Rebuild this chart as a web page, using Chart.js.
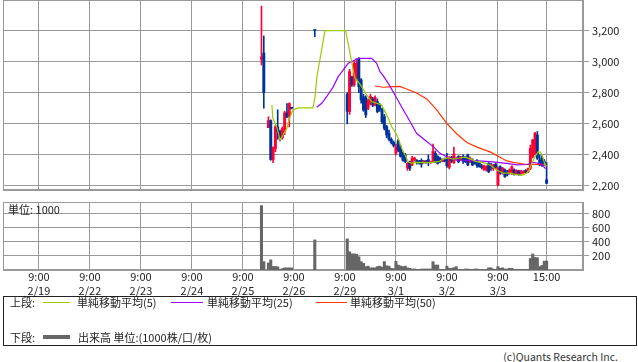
<!DOCTYPE html>
<html>
<head>
<meta charset="utf-8">
<script src="https://cdn.jsdelivr.net/npm/chart.js@4.4.1/dist/chart.umd.min.js"></script>
<style>
  body { margin: 0; background: #fff; }
  #wrap { position: relative; width: 638px; height: 362px; overflow: hidden; background: #fff;
          font-family: "Noto Sans CJK JP", sans-serif; color: #222; }
  canvas { position: absolute; left: 0; }
  .txt { position: absolute; font-size: 11px; line-height: 14px; white-space: nowrap; }
  .sw { position: absolute; height: 0; }
  #legend { position: absolute; left: 3px; top: 296px; width: 632px; height: 48px; border: 1px solid #222; }
</style>
</head>
<body>
<div id="wrap">
  <canvas id="price" width="638" height="191" style="top:0"></canvas>
  <canvas id="vol" width="638" height="100" style="top:196px"></canvas>
  <div class="txt" style="left:8px;top:202px">単位: 1000</div>

  <div id="legend"></div>
  <div class="txt" style="left:10px;top:295px">上段:</div>
  <div class="sw" style="left:43px;top:302px;width:27px;border-top:1px solid #99cc00"></div>
  <div class="txt" style="left:77px;top:295px">単純移動平均(5)</div>
  <div class="sw" style="left:171px;top:302px;width:32px;border-top:1px solid #9900ff"></div>
  <div class="txt" style="left:207px;top:295px">単純移動平均(25)</div>
  <div class="sw" style="left:316px;top:302px;width:31px;border-top:1px solid #ff3300"></div>
  <div class="txt" style="left:350px;top:295px">単純移動平均(50)</div>
  <div class="txt" style="left:10px;top:330px">下段:</div>
  <div class="sw" style="left:43px;top:335px;width:27px;border-top:4px solid #666"></div>
  <div class="txt" style="left:78px;top:330px">出来高 単位:(1000株/口/枚)</div>
  <div class="txt" style="right:20px;top:350px;font-size:10.5px;color:#333">(c)Quants Research Inc.</div>
</div>

<script>
// time slots: 22 per day (15 min bars), 2/19 9:00 = 0
const dayTicks = [0, 22, 44, 66, 88, 110, 132, 154, 176, 198, 219];
const timeLabels = ["9:00","9:00","9:00","9:00","9:00","9:00","9:00","9:00","9:00","9:00","15:00"];
const dateLabels = ["2/19","2/22","2/23","2/24","2/25","2/26","2/29","3/1","3/2","3/3",""];
const priceTicks = [2200, 2400, 2600, 2800, 3000, 3200];
const volTicks = [200, 400, 600, 800];

const slots = [96,97,99,100,101,102,103,104,105,106,107,108,109,
  119,
  133,134,135,136,137,138,139,140,141,142,143,144,145,146,147,148,149,150,151,152,153,
  154,155,156,157,158,159,160,161,162,163,164,165,166,167,168,169,170,171,172,173,174,175,
  176,177,178,179,180,181,182,183,184,185,186,187,188,189,190,191,192,193,194,195,196,197,
  198,199,200,201,202,203,204,205,206,207,208,209,210,211,212,213,214,215,216,217,218,219];

const opens = [3015,3055,2575,2620,2370,2440,2580,2550,2510,2550,2670,2650,2705,
  3200,
  2790,2678,2900,2850,2893,3020,2882,2774,2766,2700,2733,2760,2720,2742,2720,2689,2646,2581,2540,2500,2480,
  2410,2490,2450,2410,2400,2314,2356,2335,2370,2365,2360,2365,2350,2360,2370,2350,2358,2410,2390,2378,2360,2370,
  2380,2320,2385,2350,2370,2390,2370,2390,2385,2399,2356,2367,2350,2360,2345,2330,2305,2303,2346,2330,2310,2340,
  2206,2324,2282,2303,2292,2282,2282,2303,2280,2298,2275,2285,2300,2290,2314,2388,2410,2528,2367,2380,2360,2240];
const highs = [3357,3165,2645,2625,2450,2590,2690,2560,2580,2680,2730,2735,2705,
  3200,
  2800,2950,2905,3000,3020,3025,2890,2790,2780,2760,2790,2770,2780,2760,2730,2700,2660,2590,2560,2510,2490,
  2470,2500,2460,2420,2410,2350,2360,2390,2385,2370,2365,2375,2365,2365,2400,2360,2470,2425,2395,2385,2375,2380,
  2410,2390,2390,2450,2385,2395,2390,2400,2390,2405,2385,2375,2355,2370,2350,2340,2335,2330,2350,2345,2340,2345,
  2324,2330,2320,2310,2300,2310,2330,2310,2305,2300,2300,2300,2305,2315,2463,2500,2545,2550,2400,2395,2370,2350];
const lows = [2978,2700,2575,2365,2350,2420,2500,2490,2500,2530,2640,2580,2695,
  3160,
  2600,2660,2840,2840,2880,2800,2733,2680,2640,2690,2720,2710,2715,2670,2680,2600,2560,2510,2490,2470,2450,
  2400,2420,2385,2360,2350,2300,2300,2330,2360,2340,2340,2320,2345,2345,2330,2345,2350,2350,2340,2350,2355,2355,
  2320,2310,2350,2345,2365,2350,2365,2345,2350,2330,2350,2330,2340,2320,2320,2310,2300,2295,2285,2300,2300,2310,
  2200,2275,2275,2255,2265,2275,2275,2270,2275,2268,2270,2280,2285,2285,2305,2380,2400,2370,2330,2325,2330,2215];
const closes = [3030,2800,2620,2370,2450,2580,2550,2510,2570,2670,2645,2730,2700,
  3200,
  2680,2935,2850,2989,2989,2839,2753,2689,2657,2750,2775,2720,2770,2678,2690,2613,2571,2528,2500,2480,2460,
  2450,2430,2390,2365,2356,2346,2314,2378,2380,2350,2346,2340,2360,2350,2355,2358,2421,2360,2345,2360,2367,2360,
  2330,2385,2360,2405,2378,2356,2385,2360,2356,2335,2378,2335,2345,2330,2325,2318,2330,2324,2292,2320,2335,2320,
  2314,2282,2314,2260,2271,2303,2324,2280,2298,2275,2295,2290,2290,2310,2442,2496,2539,2378,2335,2330,2345,2217];
const volumes = [920,120,100,145,50,50,45,10,20,30,30,30,30,
  430,
  445,260,230,230,225,190,120,95,48,55,31,31,31,48,55,40,120,60,55,24,20,
  125,70,57,48,55,30,24,14,14,8,8,14,14,14,14,14,119,71,71,10,8,8,
  55,24,24,33,48,8,8,8,14,14,8,8,14,14,8,8,8,8,31,31,14,8,
  48,24,31,14,14,24,24,8,8,8,8,8,8,8,165,229,180,175,50,65,125,129];

// moving averages: [slot, value]
const ma5 = [[100.5,2721],[100.9,2637],[102.7,2573],[104,2496],[105.3,2528],[107,2573],[108.3,2644],
  [109.6,2689],[111.7,2702],[118.2,2702],[119.1,2772],[119.9,2901],[120.8,2978],[123.4,3199],[132.3,3199],
  [134.9,2999],[136.3,2893],[137.7,2871],[139.2,2839],[141.4,2785],[143.5,2742],[145.7,2732],[147.8,2721],
  [149.3,2678],[150.7,2635],[152.2,2581],[153.6,2549],[155,2507],[156.5,2442],[157.9,2399],[159.3,2356],
  [160.8,2346],[162.2,2352],[167.9,2350],[172.3,2356],[174.4,2372],[176.6,2382],[178.7,2372],[180.9,2378],
  [183.8,2385],[185.9,2374],[188.8,2356],[191.7,2350],[194.6,2335],[197.5,2303],[200.3,2282],[203.2,2282],
  [206.1,2271],[208.9,2271],[210.4,2282],[211.5,2303],[212.6,2346],[214,2388],[215.4,2421],[216.4,2417],
  [217.3,2388],[218.3,2335],[219,2330]];
const ma25 = [[119.8,2706],[122,2732],[124.1,2774],[127,2839],[129.1,2903],[131.3,2946],[133.4,2989],
  [136.3,3010],[138.5,3021],[143.5,3021],[145.7,2989],[147.1,2935],[148.5,2910],[150.7,2860],[154.3,2766],
  [157.2,2689],[160.1,2615],[162.9,2539],[166.5,2496],[170.1,2453],[173,2410],[175.9,2388],[180.2,2367],
  [187.4,2363],[194.6,2356],[201.8,2345],[206.1,2335],[210.4,2338],[213.2,2351],[216.9,2341],[218.3,2314],
  [219,2314]];
const ma50 = [[145,2843],[148.5,2835],[152.8,2839],[155.7,2840],[158.6,2824],[162.9,2798],[167.3,2760],
  [171.6,2689],[175.9,2603],[180.3,2534],[184.6,2480],[189.2,2448],[194.6,2419],[198.9,2385],[201.8,2361],
  [204.6,2352],[210.4,2338],[216.1,2338],[219,2332]];

const upColor = "#ff0033";
const downColor = "#003399";
const gridColor = "#999999";
const tickFont = { family: '"Noto Sans CJK JP", sans-serif', size: 11, lineHeight: "14px" };

const candleColors = closes.map((c, i) => (c > opens[i] ? upColor : downColor));

//! plot frame (left + top edges the axes don't draw)
const frame = {
  id: "frame",
  beforeDatasetsDraw(chart) {
    const a = chart.chartArea, ctx = chart.ctx;
    ctx.save();
    ctx.strokeStyle = gridColor;
    ctx.lineWidth = 1;
    ctx.strokeRect(Math.round(a.left) + 0.5, Math.round(a.top) + 0.5,
      Math.round(a.right - a.left) - 1, Math.round(a.bottom - a.top) - 1);
    ctx.restore();
  }
};

//! kill the label padding chart.js reserves, so the plot fills the box
function noPad(s) {
  s.paddingTop = 0; s.paddingBottom = 0; s.paddingLeft = 0; s.paddingRight = 0;
}

function xScale(showLabels) {
  return {
    type: "linear", min: -15.5, max: 234.7, offset: false,
    afterBuildTicks: (axis) => { axis.ticks = dayTicks.map((v) => ({ value: v })); },
    ticks: {
      display: showLabels, autoSkip: false, maxRotation: 0, padding: 0,
      color: "#222", font: tickFont,
      callback: (v, i) => [timeLabels[i], dateLabels[i]]
    },
    grid: { color: gridColor, drawTicks: false, offset: false },
    border: { color: gridColor },
    afterFit: (s) => { s.height = showLabels ? 26 : 0; noPad(s); }
  };
}

function yScale(min, max, tickList, fmt) {
  return {
    position: "right", min: min, max: max,
    afterBuildTicks: (axis) => { axis.ticks = tickList.map((v) => ({ value: v })); },
    ticks: { color: "#222", font: tickFont, padding: 3, callback: fmt },
    grid: { color: gridColor, tickLength: 6 },
    border: { color: gridColor },
    afterFit: (s) => { s.width = 55; noPad(s); }
  };
}

function lineSet(points, color) {
  return {
    type: "line",
    data: points.map((p) => ({ x: p[0], y: p[1] })),
    borderColor: color, borderWidth: 1.2, pointRadius: 0, tension: 0, order: 0
  };
}

new Chart(document.getElementById("price"), {
  type: "bar",
  data: {
    datasets: [
      lineSet(ma5, "#99cc00"),
      lineSet(ma25, "#9900ff"),
      lineSet(ma50, "#ff3300"),
      {
        type: "bar",
        data: slots.map((s, i) => ({ x: s, y: [opens[i], closes[i]] })),
        backgroundColor: candleColors, barThickness: 2.3, minBarLength: 1, grouped: false, order: 1
      },
      {
        type: "bar",
        data: slots.map((s, i) => ({ x: s, y: [lows[i], highs[i]] })),
        backgroundColor: candleColors, barThickness: 1, grouped: false, order: 2
      }
    ]
  },
  options: {
    responsive: false, animation: false,
    layout: { padding: { left: 3, top: 0, right: 0, bottom: 1 } },
    plugins: { legend: { display: false }, tooltip: { enabled: false } },
    scales: {
      x: xScale(false),
      y: yScale(2174, 3396, priceTicks, (v) => v.toLocaleString("en-US"))
    }
  },
  plugins: [frame]
});

new Chart(document.getElementById("vol"), {
  type: "bar",
  data: {
    datasets: [{
      data: slots.map((s, i) => ({ x: s, y: volumes[i] })),
      backgroundColor: "#666666", barThickness: 2.4, grouped: false
    }]
  },
  options: {
    responsive: false, animation: false,
    layout: { padding: { left: 3, top: 6, right: 0, bottom: 0 } },
    plugins: { legend: { display: false }, tooltip: { enabled: false } },
    scales: {
      x: xScale(true),
      y: yScale(0, 971, volTicks, (v) => v)
    }
  },
  plugins: [frame]
});
</script>
</body>
</html>
